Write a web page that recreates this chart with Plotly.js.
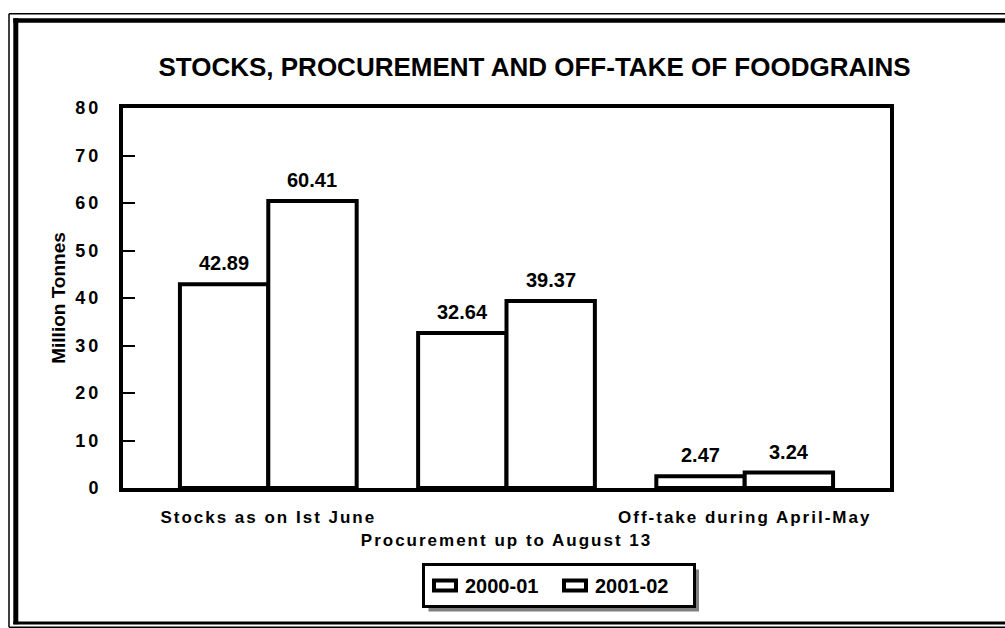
<!DOCTYPE html>
<html>
<head>
<meta charset="utf-8">
<script src="https://cdn.plot.ly/plotly-3.0.1.min.js"></script>
<style>
  html, body { margin: 0; padding: 0; background: #ffffff; }
  #chart { width: 1005px; height: 628px; }
  #chart .xtick text { letter-spacing: 2px; }
  #chart .ytick text { letter-spacing: 3px; }
</style>
</head>
<body>
<div id="chart"></div>
<script>
// ---- data ----
const categories = ["Stocks as on Ist June", "Procurement up to August 13", "Off-take during April-May"];
const tickLabels = ["Stocks as on Ist June", "<br>Procurement up to August 13", "Off-take during April-May"];
const seriesNames = ["2000-01", "2001-02"];
const values2000 = [42.89, 32.64, 2.47];
const values2001 = [60.41, 39.37, 3.24];
const yTicks = [0, 10, 20, 30, 40, 50, 60, 70, 80];

// ---- layout helpers ----
const W = 1005, H = 628;
const M = { l: 123, r: 115, t: 108, b: 140 };
const PW = W - M.l - M.r, PH = H - M.t - M.b;
const PX = x => (x - M.l) / PW;          // pixel -> paper x
const PY = y => (H - M.b - y) / PH;      // pixel -> paper y
const FONT = "Arial, 'Liberation Sans', sans-serif";
const XRANGE = [-0.61, 2.61];
const BARGAP = 0.258;
// half width of one bar in pixels (two bars per group)
const HALF_BAR = PW / (XRANGE[1] - XRANGE[0]) * (1 - BARGAP) / 4;

function vline(x, y0, y1, w) {
  return { type: "line", xref: "paper", yref: "paper", x0: PX(x), x1: PX(x), y0: PY(y0), y1: PY(y1),
           line: { color: "#000", width: w }, layer: "above" };
}
function hline(y, x0, x1, w) {
  return { type: "line", xref: "paper", yref: "paper", x0: PX(x0), x1: PX(x1), y0: PY(y), y1: PY(y),
           line: { color: "#000", width: w }, layer: "above" };
}

const barStyle = { color: "#ffffff", line: { color: "#000000", width: 4 } };
const labelFont = { family: FONT, size: 20, weight: 700, color: "#000" };

const traces = [
  { type: "bar", name: seriesNames[0], x: categories, y: values2000, marker: barStyle, hoverinfo: "skip" },
  { type: "bar", name: seriesNames[1], x: categories, y: values2001, marker: barStyle, hoverinfo: "skip" }
];

// value labels above bars
const annotations = [];
[values2000, values2001].forEach((vals, s) => {
  vals.forEach((v, i) => {
    annotations.push({
      x: categories[i], y: v, xref: "x", yref: "y",
      text: v.toFixed(2), showarrow: false,
      xanchor: "center", yanchor: "bottom",
      xshift: (s === 0 ? -1 : 1) * HALF_BAR, yshift: 8,
      font: labelFont
    });
  });
});

const LEGEND_LEFT = 422, LEGEND_RIGHT = 694, LEGEND_TOP = 563;

const layout = {
  width: W, height: H,
  margin: M,
  paper_bgcolor: "#ffffff", plot_bgcolor: "#ffffff",
  font: { family: FONT, color: "#000" },
  barmode: "group", bargap: BARGAP, bargroupgap: 0,
  title: { text: "STOCKS, PROCUREMENT AND OFF-TAKE OF FOODGRAINS",
           font: { family: FONT, size: 26, weight: 700, color: "#000" },
           xref: "paper", x: PX(534.5), xanchor: "center",
           yref: "container", y: 1 - 67 / H, yanchor: "middle" },
  xaxis: {
    type: "category", range: XRANGE,
    tickvals: categories, ticktext: tickLabels,
    showline: true, linecolor: "#000", linewidth: 4, mirror: true,
    ticks: "", showgrid: false, zeroline: false,
    tickfont: { family: FONT, size: 17, weight: 700, color: "#000" },
    ticklabelstandoff: 11, automargin: false, fixedrange: true
  },
  yaxis: {
    range: [0, 80], tickvals: yTicks, ticktext: yTicks.map(String),
    showline: true, linecolor: "#000", linewidth: 4, mirror: true,
    ticks: "inside", ticklen: 12, tickwidth: 2, tickcolor: "#000",
    showgrid: false, zeroline: false,
    tickfont: { family: FONT, size: 18, weight: 700, color: "#000" },
    ticklabelstandoff: 14,
    title: { text: "Million Tonnes", font: { family: FONT, size: 19, weight: 700, color: "#000" }, standoff: 12 },
    automargin: false, fixedrange: true
  },
  showlegend: true,
  legend: {
    orientation: "h", x: PX(LEGEND_LEFT), xanchor: "left", y: PY(LEGEND_TOP), yanchor: "top",
    bgcolor: "#ffffff", bordercolor: "#000", borderwidth: 3,
    entrywidth: 85, entrywidthmode: "pixels",
    font: { family: FONT, size: 20, weight: 700, color: "#000" },
    traceorder: "normal"
  },
  annotations: annotations,
  shapes: [
    // legend drop shadow (repositioned to the legend box after render)
    { type: "rect", xref: "paper", yref: "paper", x0: PX(427), x1: PX(699), y0: PY(568), y1: PY(607),
      fillcolor: "#808080", line: { width: 0 }, layer: "above" },
    // outer thin frame
    vline(9, 13.8, 627.2, 1.5), hline(13.8, 9, 1010, 1.5), hline(627.2, 9, 1010, 1.5),
    // inner thick frame
    vline(15.8, 18.3, 624.3, 5), hline(20.5, 13.3, 1010, 4.5), hline(623, 13.3, 1010, 3)
  ]
};

const gd = document.getElementById("chart");
Plotly.newPlot(gd, traces, layout, { staticPlot: true, displayModeBar: false }).then(() => {
  const bg = gd.querySelector(".legend .bg");
  const r = bg.getBoundingClientRect();
  const top = r.top, bottom = r.bottom, left = r.left, right = LEGEND_RIGHT;
  return Plotly.relayout(gd, {
    "shapes[0].x0": PX(left + 5), "shapes[0].x1": PX(right + 5),
    "shapes[0].y0": PY(bottom + 5), "shapes[0].y1": PY(top + 5)
  }).then(() => ({ left: left, right: right }));
}).then(box => {
  const bg = gd.querySelector(".legend .bg");
  const r = bg.getBoundingClientRect();
  bg.setAttribute("width", +bg.getAttribute("width") + (box.right - r.right));
  // flat rectangular legend swatches as in the original
  gd.querySelectorAll(".legendpoints path").forEach(p => p.setAttribute("d", "M11,5H-11V-5H11Z"));
});
</script>
</body>
</html>
